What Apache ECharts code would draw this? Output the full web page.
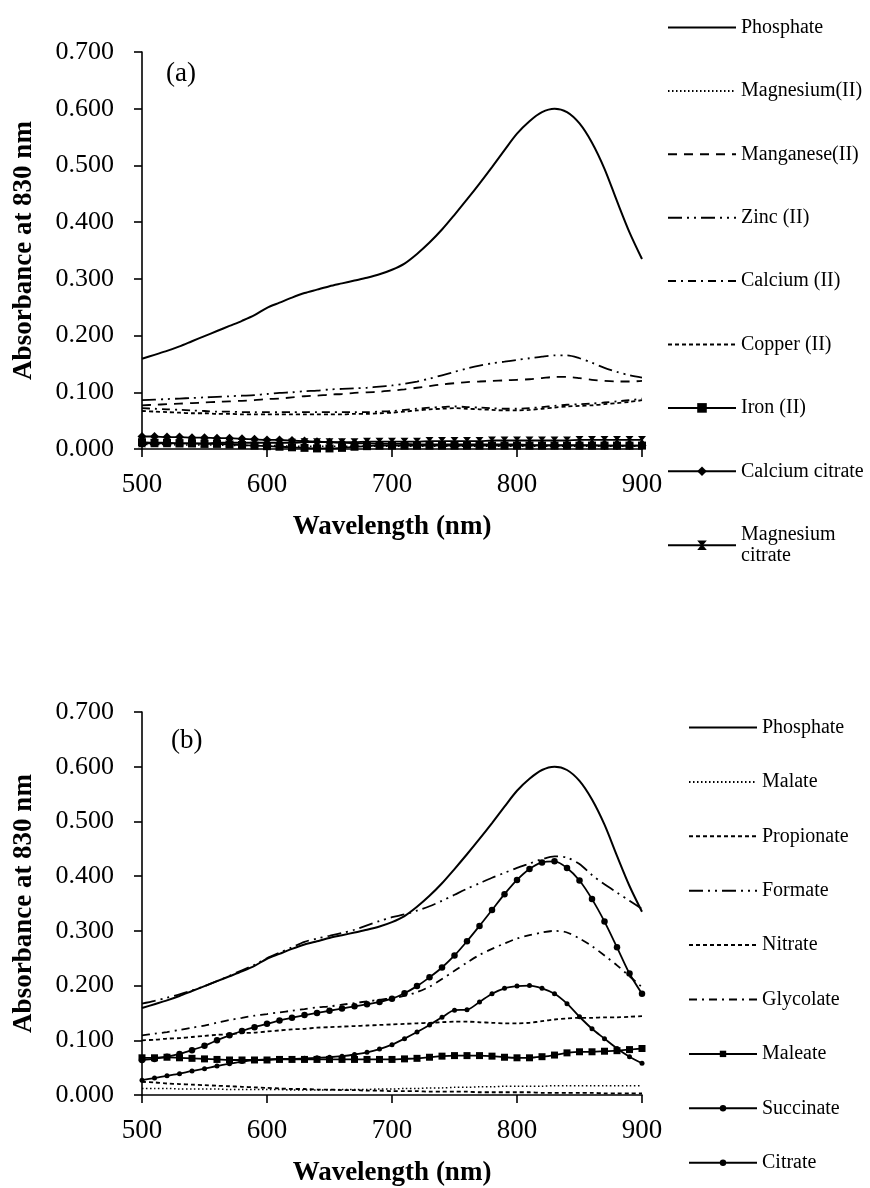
<!DOCTYPE html>
<html>
<head>
<meta charset="utf-8">
<script src="https://cdn.jsdelivr.net/npm/echarts@6/dist/echarts.min.js"></script>
<style>
  html, body { margin: 0; padding: 0; background: #fff; }
  #chart { width: 870px; height: 1188px; }
</style>
</head>
<body>
<div id="chart"></div>
<script>
// Wavelength grid (nm), one reading every 10 nm
const wavelengths = [500, 510, 520, 530, 540, 550, 560, 570, 580, 590,
  600, 610, 620, 630, 640, 650, 660, 670, 680, 690,
  700, 710, 720, 730, 740, 750, 760, 770, 780, 790,
  800, 810, 820, 830, 840, 850, 860, 870, 880, 890, 900];

const yTicks = [0, 0.1, 0.2, 0.3, 0.4, 0.5, 0.6, 0.7];
const xTicks = [500, 600, 700, 800, 900];

// Phosphate reference spectrum (shown in both panels)
const phosphate = [0.159, 0.166, 0.173, 0.181, 0.190, 0.199, 0.208, 0.217, 0.226, 0.236,
  0.249, 0.258, 0.267, 0.275, 0.281, 0.287, 0.292, 0.297, 0.302, 0.308,
  0.316, 0.327, 0.344, 0.364, 0.387, 0.413, 0.440, 0.468, 0.497, 0.527,
  0.556, 0.578, 0.594, 0.600, 0.594, 0.574, 0.540, 0.494, 0.437, 0.382, 0.335];

// Panel (a): metal ions
const magnesiumII = [0.008, 0.008, 0.008, 0.007, 0.007, 0.007, 0.007, 0.006, 0.006, 0.006,
  0.006, 0.006, 0.005, 0.005, 0.005, 0.005, 0.005, 0.005, 0.005, 0.005,
  0.005, 0.005, 0.005, 0.005, 0.005, 0.005, 0.005, 0.005, 0.005, 0.005,
  0.005, 0.005, 0.005, 0.005, 0.005, 0.005, 0.005, 0.005, 0.005, 0.005, 0.005];
const manganeseII = [0.077, 0.078, 0.079, 0.080, 0.081, 0.082, 0.083, 0.084, 0.085, 0.086,
  0.088, 0.089, 0.091, 0.093, 0.094, 0.096, 0.097, 0.099, 0.100, 0.101,
  0.103, 0.105, 0.108, 0.111, 0.114, 0.116, 0.118, 0.119, 0.120, 0.121,
  0.122, 0.123, 0.125, 0.127, 0.127, 0.125, 0.122, 0.120, 0.119, 0.119, 0.120];
const zincII = [0.086, 0.087, 0.088, 0.089, 0.090, 0.091, 0.092, 0.093, 0.094, 0.095,
  0.097, 0.099, 0.100, 0.102, 0.103, 0.105, 0.106, 0.107, 0.108, 0.110,
  0.112, 0.115, 0.119, 0.124, 0.130, 0.136, 0.142, 0.147, 0.151, 0.154,
  0.157, 0.160, 0.163, 0.165, 0.165, 0.160, 0.152, 0.143, 0.136, 0.130, 0.126];
const calciumII = [0.072, 0.071, 0.070, 0.069, 0.068, 0.067, 0.066, 0.066, 0.065, 0.065,
  0.065, 0.065, 0.065, 0.065, 0.065, 0.065, 0.065, 0.065, 0.065, 0.066,
  0.067, 0.069, 0.071, 0.073, 0.074, 0.075, 0.074, 0.073, 0.072, 0.071,
  0.071, 0.072, 0.074, 0.076, 0.078, 0.079, 0.080, 0.082, 0.084, 0.086, 0.089];
const copperII = [0.067, 0.066, 0.065, 0.064, 0.063, 0.063, 0.062, 0.062, 0.061, 0.061,
  0.061, 0.061, 0.061, 0.061, 0.061, 0.061, 0.061, 0.062, 0.062, 0.063,
  0.064, 0.066, 0.068, 0.070, 0.071, 0.072, 0.071, 0.070, 0.069, 0.068,
  0.068, 0.069, 0.071, 0.073, 0.075, 0.076, 0.077, 0.079, 0.081, 0.083, 0.086];
const ironII = [0.012, 0.011, 0.011, 0.010, 0.010, 0.009, 0.009, 0.008, 0.007, 0.006,
  0.005, 0.004, 0.003, 0.002, 0.001, 0.001, 0.002, 0.004, 0.005, 0.006,
  0.006, 0.006, 0.006, 0.006, 0.006, 0.006, 0.006, 0.006, 0.006, 0.006,
  0.006, 0.006, 0.006, 0.006, 0.006, 0.006, 0.006, 0.006, 0.006, 0.006, 0.006];
const calciumCitrate = [0.022, 0.022, 0.021, 0.021, 0.020, 0.020, 0.019, 0.019, 0.018, 0.017,
  0.016, 0.016, 0.015, 0.014, 0.013, 0.012, 0.011, 0.010, 0.010, 0.009,
  0.009, 0.009, 0.008, 0.008, 0.008, 0.008, 0.008, 0.008, 0.008, 0.008,
  0.008, 0.007, 0.007, 0.007, 0.007, 0.007, 0.007, 0.006, 0.006, 0.006, 0.006];
const magnesiumCitrate = [0.010, 0.010, 0.010, 0.010, 0.010, 0.010, 0.011, 0.011, 0.011, 0.011,
  0.011, 0.011, 0.011, 0.012, 0.012, 0.012, 0.012, 0.012, 0.013, 0.013,
  0.013, 0.013, 0.013, 0.014, 0.014, 0.014, 0.014, 0.014, 0.015, 0.015,
  0.015, 0.015, 0.015, 0.015, 0.015, 0.016, 0.016, 0.016, 0.016, 0.016, 0.016];

// Panel (b): organic anions
const malate = [0.012, 0.012, 0.012, 0.011, 0.011, 0.011, 0.011, 0.010, 0.010, 0.010,
  0.010, 0.010, 0.009, 0.009, 0.009, 0.009, 0.010, 0.010, 0.010, 0.011,
  0.011, 0.012, 0.012, 0.013, 0.013, 0.014, 0.014, 0.015, 0.015, 0.016,
  0.016, 0.016, 0.016, 0.017, 0.017, 0.017, 0.017, 0.017, 0.017, 0.017, 0.017];
const propionate = [0.024, 0.023, 0.021, 0.020, 0.019, 0.018, 0.017, 0.016, 0.015, 0.014,
  0.013, 0.012, 0.011, 0.011, 0.010, 0.010, 0.009, 0.009, 0.008, 0.008,
  0.007, 0.007, 0.007, 0.006, 0.006, 0.006, 0.006, 0.005, 0.005, 0.005,
  0.005, 0.005, 0.004, 0.004, 0.004, 0.004, 0.004, 0.003, 0.003, 0.003, 0.003];
const formate = [0.167, 0.172, 0.178, 0.184, 0.191, 0.199, 0.208, 0.218, 0.228, 0.238,
  0.250, 0.260, 0.270, 0.280, 0.286, 0.291, 0.296, 0.302, 0.310, 0.318,
  0.325, 0.330, 0.337, 0.345, 0.355, 0.366, 0.377, 0.387, 0.397, 0.406,
  0.415, 0.423, 0.431, 0.436, 0.434, 0.422, 0.402, 0.385, 0.370, 0.355, 0.340];
const nitrate = [0.100, 0.101, 0.103, 0.104, 0.106, 0.108, 0.110, 0.111, 0.113, 0.114,
  0.116, 0.118, 0.120, 0.121, 0.123, 0.124, 0.125, 0.126, 0.127, 0.128,
  0.129, 0.130, 0.131, 0.132, 0.133, 0.134, 0.134, 0.133, 0.132, 0.131,
  0.131, 0.132, 0.135, 0.138, 0.140, 0.141, 0.141, 0.142, 0.142, 0.143, 0.144];
const glycolate = [0.109, 0.112, 0.115, 0.119, 0.123, 0.127, 0.132, 0.137, 0.141, 0.145,
  0.148, 0.151, 0.154, 0.157, 0.160, 0.162, 0.165, 0.168, 0.171, 0.174,
  0.177, 0.181, 0.188, 0.198, 0.212, 0.227, 0.242, 0.256, 0.267, 0.277,
  0.286, 0.292, 0.297, 0.300, 0.297, 0.286, 0.272, 0.255, 0.237, 0.217, 0.197];
const maleate = [0.068, 0.068, 0.069, 0.068, 0.067, 0.066, 0.065, 0.064, 0.064, 0.064,
  0.064, 0.065, 0.065, 0.065, 0.065, 0.065, 0.065, 0.065, 0.065, 0.065,
  0.065, 0.066, 0.067, 0.069, 0.071, 0.072, 0.072, 0.072, 0.071, 0.069,
  0.068, 0.068, 0.070, 0.073, 0.077, 0.079, 0.079, 0.080, 0.081, 0.083, 0.085];
const succinate = [0.027, 0.031, 0.035, 0.039, 0.044, 0.048, 0.053, 0.057, 0.061, 0.064,
  0.065, 0.066, 0.066, 0.067, 0.068, 0.069, 0.071, 0.074, 0.078, 0.084,
  0.092, 0.103, 0.115, 0.128, 0.142, 0.155, 0.156, 0.170, 0.185, 0.195,
  0.199, 0.200, 0.195, 0.185, 0.167, 0.143, 0.121, 0.103, 0.085, 0.070, 0.058];
const citrate = [0.064, 0.066, 0.070, 0.075, 0.082, 0.090, 0.100, 0.109, 0.117, 0.124,
  0.130, 0.136, 0.141, 0.146, 0.150, 0.154, 0.158, 0.162, 0.166, 0.170,
  0.176, 0.186, 0.199, 0.215, 0.233, 0.255, 0.281, 0.309, 0.338, 0.367,
  0.393, 0.413, 0.425, 0.427, 0.415, 0.392, 0.358, 0.317, 0.270, 0.222, 0.185];

const legendA = ['Phosphate', 'Magnesium(II)', 'Manganese(II)', 'Zinc (II)', 'Calcium (II)',
  'Copper (II)', 'Iron (II)', 'Calcium citrate', 'Magnesium citrate'];
const legendB = ['Phosphate', 'Malate', 'Propionate', 'Formate', 'Nitrate', 'Glycolate',
  'Maleate', 'Succinate', 'Citrate'];

const SERIF = '"Liberation Serif", "Times New Roman", serif';
const INK = '#000';

// line dash patterns
const DASH = {
  solid: 'solid',
  dot: [1.5, 2.5],
  dash: [9, 7],
  shortDash: [4, 3],
  dashDot: [8, 5, 2, 5],
  dashDotDot: [14, 5, 2, 5, 2, 5]
};

const hourglass = 'path://M0,0 L10,0 L6,5 L10,10 L0,10 L4,5 Z';

// series drawn as plain lines get no marker in their legend key
const plainLines = new Set();

function pairs(values) {
  return values.map((v, i) => [wavelengths[i], v]);
}

function lineSeries(name, values, idx, dash, width, marker, markerSize) {
  if (!marker) plainLines.add(name);
  return {
    name: name,
    type: 'line',
    xAxisIndex: idx,
    yAxisIndex: idx,
    data: pairs(values),
    smooth: 0.3,
    symbol: marker || 'none',
    symbolSize: markerSize || 0,
    showSymbol: !!marker,
    lineStyle: { color: INK, width: width, type: dash },
    itemStyle: { color: INK },
    emphasis: { disabled: true },
    animation: false,
    z: marker ? 3 : 2
  };
}

function makeGrid(top, height) {
  return { left: 142, top: top, width: 500, height: height, containLabel: false };
}

function makeXAxis(idx) {
  return {
    type: 'value', gridIndex: idx,
    min: xTicks[0], max: xTicks[xTicks.length - 1], interval: 100,
    name: 'Wavelength (nm)', nameLocation: 'middle', nameGap: 65,
    nameTextStyle: { fontFamily: SERIF, fontSize: 27, fontWeight: 'bold', color: INK },
    axisLine: { show: true, lineStyle: { color: INK, width: 1.6 } },
    axisTick: { show: true, inside: false, length: 8, lineStyle: { color: INK, width: 1.6 } },
    axisLabel: { fontFamily: SERIF, fontSize: 27, color: INK, margin: 22 },
    splitLine: { show: false }
  };
}

function makeYAxis(idx) {
  return {
    type: 'value', gridIndex: idx,
    min: yTicks[0], max: yTicks[yTicks.length - 1], interval: 0.1,
    name: 'Absorbance at 830 nm', nameLocation: 'middle', nameGap: 104, nameRotate: 90,
    nameTextStyle: { fontFamily: SERIF, fontSize: 27, fontWeight: 'bold', color: INK },
    axisLine: { show: true, lineStyle: { color: INK, width: 1.6 } },
    axisTick: { show: true, inside: false, length: 8, lineStyle: { color: INK, width: 1.6 } },
    axisLabel: { fontFamily: SERIF, fontSize: 26, color: INK, margin: 28,
      formatter: v => v.toFixed(3) },
    splitLine: { show: false }
  };
}

function makeLegend(names, left, top, gap, keyHeight) {
  return {
    data: names.map(n => plainLines.has(n)
      ? { name: n, itemStyle: { color: 'rgba(0,0,0,0)', borderColor: 'rgba(0,0,0,0)', borderWidth: 0 } }
      : { name: n }),
    orient: 'vertical', left: left, top: top,
    itemWidth: 68, itemHeight: keyHeight, itemGap: gap,
    selectedMode: false,
    textStyle: { fontFamily: SERIF, fontSize: 20, color: INK, lineHeight: 21 },
    formatter: n => n === 'Magnesium citrate' ? 'Magnesium\ncitrate' : n
  };
}

const seriesList = [
  lineSeries('Phosphate', phosphate, 0, DASH.solid, 2),
  lineSeries('Magnesium(II)', magnesiumII, 0, DASH.dot, 1.5),
  lineSeries('Manganese(II)', manganeseII, 0, DASH.dash, 1.8),
  lineSeries('Zinc (II)', zincII, 0, DASH.dashDotDot, 1.8),
  lineSeries('Calcium (II)', calciumII, 0, DASH.dashDot, 1.8),
  lineSeries('Copper (II)', copperII, 0, DASH.shortDash, 1.8),
  lineSeries('Iron (II)', ironII, 0, DASH.solid, 1.8, 'rect', 8),
  lineSeries('Calcium citrate', calciumCitrate, 0, DASH.solid, 1.8, 'diamond', 9),
  lineSeries('Magnesium citrate', magnesiumCitrate, 0, DASH.solid, 1.8, hourglass, 8),

  lineSeries('Phosphate', phosphate, 1, DASH.solid, 2),
  lineSeries('Malate', malate, 1, DASH.dot, 1.5),
  lineSeries('Propionate', propionate, 1, DASH.shortDash, 1.8),
  lineSeries('Formate', formate, 1, DASH.dashDotDot, 1.8),
  lineSeries('Nitrate', nitrate, 1, DASH.shortDash, 1.8),
  lineSeries('Glycolate', glycolate, 1, DASH.dashDot, 1.8),
  lineSeries('Maleate', maleate, 1, DASH.solid, 1.8, 'rect', 7),
  lineSeries('Succinate', succinate, 1, DASH.solid, 1.8, 'circle', 5),
  lineSeries('Citrate', citrate, 1, DASH.solid, 1.8, 'circle', 6.5)
];

const chart = echarts.init(document.getElementById('chart'), null, { renderer: 'canvas' });

chart.setOption({
  backgroundColor: '#fff',
  animation: false,
  title: [
    { text: '(a)', left: 166, top: 60, padding: 0,
      textStyle: { fontFamily: SERIF, fontSize: 27, fontWeight: 'normal', color: INK } },
    { text: '(b)', left: 171, top: 727, padding: 0,
      textStyle: { fontFamily: SERIF, fontSize: 27, fontWeight: 'normal', color: INK } }
  ],
  legend: [
    makeLegend(legendA, 662, 12, 42.4, 12),
    makeLegend(legendB, 683, 712, 33.4, 8)
  ],
  grid: [makeGrid(52, 397), makeGrid(712, 385)],
  xAxis: [makeXAxis(0), makeXAxis(1)],
  yAxis: [makeYAxis(0), makeYAxis(1)],
  series: seriesList
});
</script>
</body>
</html>
